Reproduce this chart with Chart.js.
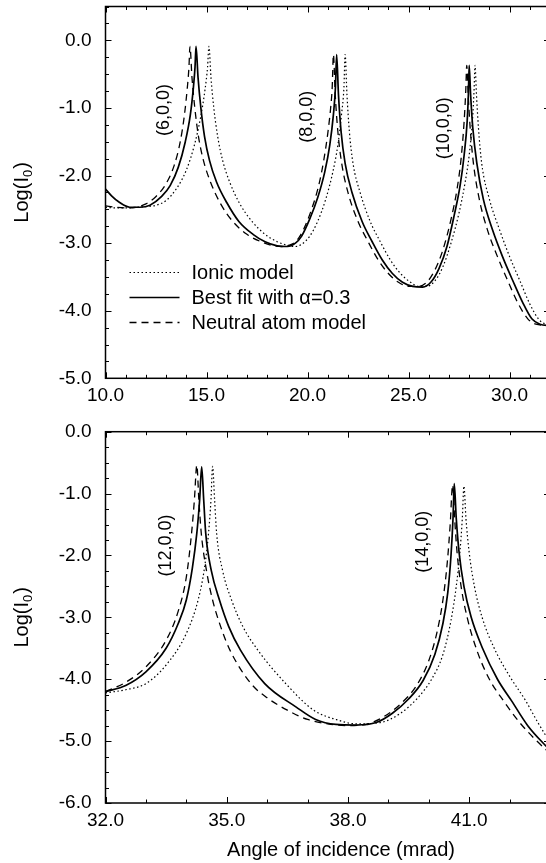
<!DOCTYPE html>
<html>
<head>
<meta charset="utf-8">
<title>Log(I0) vs angle of incidence</title>
<script src="https://cdn.jsdelivr.net/npm/chart.js@4.4.0/dist/chart.umd.min.js"></script>
<style>
    html, body { margin: 0; padding: 0; background: #fff; overflow: hidden; }
    body { width: 546px; height: 863px; position: relative; }
    .panel { position: absolute; left: 0; width: 552px; }
    #top-panel { top: 0; height: 415px; }
    #bottom-panel { top: 415px; height: 448px; }
</style>
</head>
<body>
<div class="panel" id="top-panel"><canvas id="top-chart"></canvas></div>
<div class="panel" id="bottom-panel"><canvas id="bottom-chart"></canvas></div>
<script>
// ---- Top panel data (10 - 32 mrad) ----
const topIonicX = [10.0, 10.5, 11.0, 11.5, 12.0, 12.5, 13.0, 13.5, 14.0, 14.4, 14.7, 14.93, 15.05, 15.12, 15.22, 15.36, 15.55, 15.8, 16.15, 16.65, 17.25, 17.9, 18.5, 19.0, 19.4, 19.7, 20.1, 20.5, 20.9, 21.25, 21.5, 21.68, 21.8, 21.86, 21.95, 22.07, 22.25, 22.6, 23.1, 23.6, 24.1, 24.6, 25.1, 25.5, 25.9, 26.3, 26.7, 27.1, 27.5, 27.8, 28.0, 28.17, 28.24, 28.29, 28.36, 28.46, 28.62, 29.0, 29.5, 30.0, 30.5, 31.0, 31.45, 31.8, 32.0];
const topIonicY = [-2.47, -2.48, -2.48, -2.47, -2.46, -2.44, -2.37, -2.2, -1.92, -1.55, -1.15, -0.72, -0.4, -0.09, -0.55, -1.0, -1.42, -1.78, -2.1, -2.42, -2.68, -2.87, -2.98, -3.03, -3.05, -3.02, -2.9, -2.68, -2.35, -1.95, -1.55, -1.1, -0.7, -0.21, -0.8, -1.35, -1.82, -2.25, -2.68, -2.98, -3.25, -3.45, -3.58, -3.64, -3.64, -3.56, -3.35, -3.0, -2.55, -2.1, -1.7, -1.15, -0.75, -0.37, -0.8, -1.3, -1.82, -2.35, -2.8, -3.2, -3.55, -3.9, -4.13, -4.2, -4.21];

const topBestX = [10.0, 10.3, 10.7, 11.2, 11.7, 12.2, 12.78, 13.2, 13.6, 13.95, 14.2, 14.35, 14.43, 14.48, 14.58, 14.72, 14.9, 15.15, 15.5, 16.0, 16.6, 17.3, 17.9, 18.5, 19.0, 19.4, 19.7, 20.1, 20.5, 20.85, 21.1, 21.28, 21.38, 21.44, 21.53, 21.66, 21.86, 22.2, 22.7, 23.2, 23.7, 24.2, 24.7, 25.2, 25.7, 26.1, 26.5, 26.9, 27.25, 27.55, 27.75, 27.9, 27.96, 28.0, 28.07, 28.18, 28.38, 28.7, 29.15, 29.65, 30.15, 30.65, 31.1, 31.5, 32.0];
const topBestY = [-2.2, -2.3, -2.4, -2.47, -2.47, -2.44, -2.31, -2.15, -1.88, -1.5, -1.1, -0.7, -0.4, -0.09, -0.55, -1.0, -1.42, -1.78, -2.1, -2.4, -2.68, -2.87, -2.98, -3.04, -3.05, -3.0, -2.9, -2.65, -2.33, -1.95, -1.55, -1.1, -0.7, -0.21, -0.8, -1.35, -1.82, -2.25, -2.68, -2.98, -3.25, -3.45, -3.58, -3.64, -3.65, -3.58, -3.38, -3.05, -2.6, -2.15, -1.7, -1.2, -0.8, -0.37, -0.8, -1.3, -1.82, -2.35, -2.8, -3.2, -3.55, -3.88, -4.12, -4.2, -4.22];

const topNeutralX = [10.0, 10.5, 11.0, 11.5, 12.0, 12.5, 13.0, 13.4, 13.7, 13.9, 14.05, 14.13, 14.18, 14.28, 14.42, 14.6, 14.85, 15.2, 15.7, 16.3, 17.0, 17.7, 18.3, 18.8, 19.2, 19.5, 19.8, 20.2, 20.55, 20.8, 21.0, 21.15, 21.22, 21.28, 21.37, 21.5, 21.69, 22.0, 22.5, 23.0, 23.5, 24.0, 24.5, 25.0, 25.5, 25.9, 26.3, 26.7, 27.1, 27.4, 27.6, 27.75, 27.83, 27.88, 27.95, 28.05, 28.21, 28.5, 28.9, 29.4, 29.9, 30.4, 30.9, 31.3, 32.0];
const topNeutralY = [-2.45, -2.47, -2.48, -2.47, -2.42, -2.31, -2.12, -1.85, -1.5, -1.12, -0.7, -0.4, -0.09, -0.55, -1.0, -1.42, -1.78, -2.1, -2.42, -2.68, -2.87, -2.98, -3.04, -3.05, -3.02, -2.95, -2.8, -2.5, -2.15, -1.78, -1.38, -0.98, -0.7, -0.21, -0.8, -1.35, -1.82, -2.25, -2.68, -2.98, -3.25, -3.45, -3.58, -3.64, -3.64, -3.58, -3.4, -3.1, -2.65, -2.2, -1.75, -1.2, -0.75, -0.37, -0.8, -1.3, -1.82, -2.35, -2.8, -3.2, -3.55, -3.88, -4.12, -4.2, -4.22];

const topXTicks = [10, 15, 20, 25, 30];
const topYTicks = [-5, -4, -3, -2, -1, 0];
const topPeakLabels = ['(6,0,0)', '(8,0,0)', '(10,0,0)'];
const topPeakX = [12.89, 19.96, 26.76];
const topPeakY = [-1.03, -1.13, -1.3];

// ---- Bottom panel data (32 - 43 mrad) ----
const bottomIonicX = [32.0, 32.5, 33.0, 33.5, 34.0, 34.3, 34.45, 34.55, 34.61, 34.65, 34.7, 34.75, 34.9, 35.12, 35.4, 35.77, 36.46, 37.15, 37.7, 38.2, 38.8, 39.3, 39.7, 40.07, 40.35, 40.55, 40.68, 40.77, 40.83, 40.87, 40.92, 41.0, 41.13, 41.32, 41.62, 42.0, 42.4, 42.7, 43.0];
const bottomIonicY = [-4.22, -4.17, -4.07, -3.77, -3.26, -2.7, -2.2, -1.64, -1.1, -0.56, -1.1, -1.64, -2.25, -2.72, -3.15, -3.53, -4.07, -4.5, -4.65, -4.72, -4.7, -4.55, -4.32, -4.0, -3.6, -3.05, -2.5, -1.95, -1.4, -0.88, -1.4, -1.95, -2.5, -3.0, -3.5, -3.95, -4.35, -4.7, -5.02];

const bottomBestX = [32.0, 32.5, 33.0, 33.5, 33.8, 34.0, 34.15, 34.26, 34.33, 34.38, 34.43, 34.48, 34.62, 34.82, 35.05, 35.34, 35.94, 36.72, 37.2, 37.7, 38.2, 38.7, 39.1, 39.5, 39.86, 40.15, 40.35, 40.47, 40.55, 40.6, 40.63, 40.68, 40.75, 40.87, 41.05, 41.33, 41.7, 42.05, 42.45, 43.0];
const bottomBestY = [-4.2, -4.1, -3.88, -3.5, -3.1, -2.72, -2.2, -1.64, -1.1, -0.57, -1.1, -1.64, -2.25, -2.72, -3.15, -3.53, -4.07, -4.45, -4.65, -4.73, -4.74, -4.7, -4.55, -4.32, -4.02, -3.6, -3.1, -2.6, -2.0, -1.4, -0.84, -1.4, -1.95, -2.5, -3.0, -3.5, -4.0, -4.35, -4.75, -5.15];

const bottomNeutralX = [32.0, 32.5, 33.0, 33.5, 33.8, 34.0, 34.13, 34.2, 34.26, 34.31, 34.37, 34.5, 34.65, 34.85, 35.08, 35.6, 36.0, 36.5, 37.0, 37.5, 38.0, 38.5, 38.9, 39.3, 39.7, 40.0, 40.2, 40.35, 40.46, 40.53, 40.59, 40.64, 40.7, 40.8, 40.95, 41.2, 41.5, 41.85, 42.25, 42.6, 43.0];
const bottomNeutralY = [-4.2, -4.05, -3.8, -3.37, -2.9, -2.35, -1.64, -1.1, -0.54, -1.1, -1.64, -2.25, -2.72, -3.15, -3.53, -4.07, -4.3, -4.5, -4.65, -4.72, -4.75, -4.72, -4.6, -4.4, -4.1, -3.7, -3.25, -2.72, -2.1, -1.5, -0.86, -1.4, -1.95, -2.5, -3.0, -3.55, -4.0, -4.35, -4.7, -4.95, -5.2];

const bottomXTicks = [32, 35, 38, 41];
const bottomYTicks = [-6, -5, -4, -3, -2, -1, 0];
const bottomPeakLabels = ['(12,0,0)', '(14,0,0)'];
const bottomPeakX = [33.51, 39.85];
const bottomPeakY = [-1.84, -1.78];

const FONT = '"Liberation Sans", Arial, Helvetica, sans-serif';

// Line styles for the three models
const seriesStyles = [
    { label: 'Ionic model', dash: [1.5, 2.5], width: 1.2 },
    { label: 'Best fit with \u03b1=0.3', dash: [], width: 1.7 },
    { label: 'Neutral atom model', dash: [7, 5], width: 1.3 }
];

function toPoints(xs, ys) {
    return xs.map((x, i) => ({ x: x, y: ys[i] }));
}

function strokeLine(ctx, x1, y1, x2, y2) {
    ctx.beginPath();
    ctx.moveTo(x1, y1);
    ctx.lineTo(x2, y2);
    ctx.stroke();
}

// Frame, inward ticks, peak labels, legend and titles
const framePlugin = {
    id: 'frame',
    afterDraw(chart, args, opts) {
        const ctx = chart.ctx;
        const a = chart.chartArea;
        const sx = chart.scales.x;
        const sy = chart.scales.y;
        ctx.save();
        ctx.strokeStyle = '#000';
        ctx.fillStyle = '#000';
        ctx.setLineDash([]);

        // x ticks every 1 mrad, longer on labelled values
        ctx.lineWidth = 1;
        for (let v = sx.min; v <= sx.max + 1e-6; v += 1) {
            const px = Math.round(sx.getPixelForValue(v)) + 0.5;
            const len = opts.xTicks.includes(Math.round(v)) ? 6 : 3.5;
            strokeLine(ctx, px, a.bottom, px, a.bottom - len);
            strokeLine(ctx, px, a.top, px, a.top + len);
        }
        // y ticks every 0.25
        for (let v = sy.min; v <= sy.max + 1e-6; v += 0.25) {
            const py = Math.round(sy.getPixelForValue(v)) + 0.5;
            const len = Number.isInteger(v) ? 6 : 3.5;
            strokeLine(ctx, a.left, py, a.left + len, py);
            strokeLine(ctx, a.right, py, a.right - len, py);
        }

        ctx.lineWidth = 1.5;
        ctx.strokeRect(a.left, a.top, a.right - a.left, a.bottom - a.top);

        // rotated peak labels
        ctx.font = '18px ' + FONT;
        ctx.textAlign = 'center';
        ctx.textBaseline = 'middle';
        opts.peakLabels.forEach((txt, i) => {
            ctx.save();
            ctx.translate(sx.getPixelForValue(opts.peakX[i]), sy.getPixelForValue(opts.peakY[i]));
            ctx.rotate(-Math.PI / 2);
            ctx.fillText(txt, 0, 0);
            ctx.restore();
        });

        // legend inside the top panel
        if (opts.legend) {
            ctx.font = '20px ' + FONT;
            ctx.textAlign = 'left';
            seriesStyles.forEach((s, i) => {
                const y = a.top + 266 + i * 25;
                ctx.lineWidth = s.width;
                ctx.setLineDash(s.dash);
                strokeLine(ctx, a.left + 24, y, a.left + 74, y);
                ctx.setLineDash([]);
                ctx.fillText(s.label, a.left + 86, y + 1);
            });
        }

        // y title: Log(I0) with subscript
        ctx.save();
        ctx.translate(22, (a.top + a.bottom) / 2);
        ctx.rotate(-Math.PI / 2);
        ctx.textAlign = 'left';
        ctx.textBaseline = 'middle';
        const big = '20px ' + FONT;
        const small = '13px ' + FONT;
        ctx.font = big;
        const w1 = ctx.measureText('Log(I').width;
        const w3 = ctx.measureText(')').width;
        ctx.font = small;
        const w2 = ctx.measureText('0').width + 1;
        const start = -(w1 + w2 + w3) / 2;
        ctx.font = big;
        ctx.fillText('Log(I', start, 0);
        ctx.fillText(')', start + w1 + w2, 0);
        ctx.font = small;
        ctx.fillText('0', start + w1, 6);
        ctx.restore();

        if (opts.xTitle) {
            ctx.font = '20px ' + FONT;
            ctx.textAlign = 'center';
            ctx.textBaseline = 'middle';
            ctx.fillText(opts.xTitle, opts.xTitleX, opts.xTitleY);
        }
        ctx.restore();
    }
};

function makeChart(id, data, cfg) {
    const ctx = document.getElementById(id).getContext('2d');
    return new Chart(ctx, {
        type: 'line',
        data: {
            datasets: data.map((pts, i) => ({
                label: seriesStyles[i].label,
                data: pts,
                borderColor: '#000',
                borderWidth: seriesStyles[i].width,
                borderDash: seriesStyles[i].dash,
                pointRadius: 0,
                fill: false,
                cubicInterpolationMode: 'monotone'
            }))
        },
        options: {
            responsive: true,
            maintainAspectRatio: false,
            animation: false,
            layout: { padding: { top: cfg.padTop, right: 2, left: 0, bottom: 0 } },
            plugins: {
                legend: { display: false },
                tooltip: { enabled: false },
                frame: {
                    xTicks: cfg.xTicks,
                    peakLabels: cfg.peakLabels,
                    peakX: cfg.peakX,
                    peakY: cfg.peakY,
                    legend: cfg.legend,
                    xTitle: cfg.xTitle,
                    xTitleX: 341,
                    xTitleY: 435
                }
            },
            scales: {
                x: {
                    type: 'linear',
                    min: cfg.xMin,
                    max: cfg.xMax,
                    grid: { display: false, drawTicks: false },
                    border: { display: false },
                    afterBuildTicks: s => { s.ticks = cfg.xTicks.map(v => ({ value: v })); },
                    afterFit: s => {
                        s.height = cfg.xAxisHeight;
                        s.paddingLeft = 0;
                        s.paddingRight = 0;
                    },
                    ticks: {
                        autoSkip: false,
                        maxRotation: 0,
                        padding: 6,
                        color: '#000',
                        font: { family: FONT, size: 19 },
                        callback: v => v.toFixed(1)
                    }
                },
                y: {
                    min: cfg.yMin,
                    max: cfg.yMax,
                    grid: { display: false, drawTicks: false },
                    border: { display: false },
                    afterBuildTicks: s => { s.ticks = cfg.yTicks.map(v => ({ value: v })); },
                    afterFit: s => {
                        s.width = 105.5;
                        s.paddingTop = 0;
                        s.paddingBottom = 0;
                    },
                    ticks: {
                        autoSkip: false,
                        padding: 14,
                        color: '#000',
                        font: { family: FONT, size: 19 },
                        callback: v => v.toFixed(1)
                    }
                }
            }
        },
        plugins: [framePlugin]
    });
}

makeChart('top-chart', [
    toPoints(topIonicX, topIonicY),
    toPoints(topBestX, topBestY),
    toPoints(topNeutralX, topNeutralY)
], {
    xMin: 10, xMax: 32, yMin: -5, yMax: 0.5,
    xTicks: topXTicks, yTicks: topYTicks,
    padTop: 6.5, xAxisHeight: 36.7,
    peakLabels: topPeakLabels, peakX: topPeakX, peakY: topPeakY,
    legend: true
});

makeChart('bottom-chart', [
    toPoints(bottomIonicX, bottomIonicY),
    toPoints(bottomBestX, bottomBestY),
    toPoints(bottomNeutralX, bottomNeutralY)
], {
    xMin: 32, xMax: 43, yMin: -6, yMax: 0,
    xTicks: bottomXTicks, yTicks: bottomYTicks,
    padTop: 16.7, xAxisHeight: 60,
    peakLabels: bottomPeakLabels, peakX: bottomPeakX, peakY: bottomPeakY,
    legend: false,
    xTitle: 'Angle of incidence (mrad)'
});
</script>
</body>
</html>
